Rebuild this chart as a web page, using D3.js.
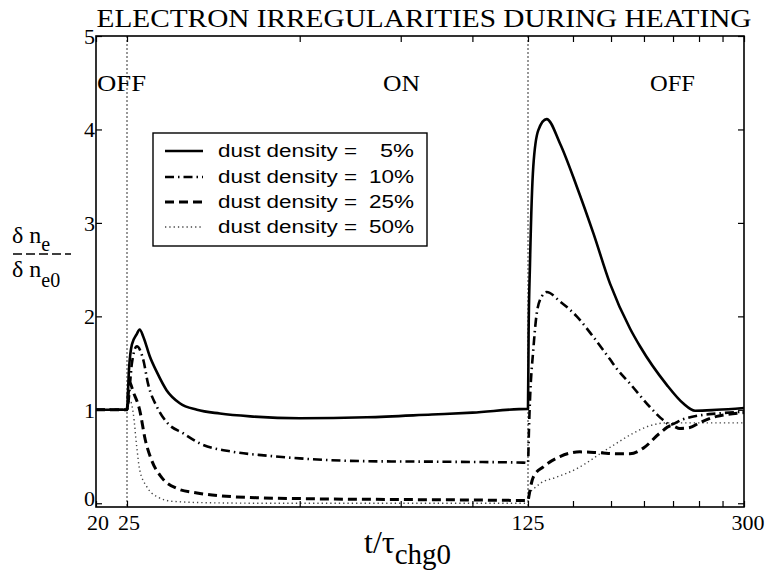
<!DOCTYPE html>
<html>
<head>
<meta charset="utf-8">
<script src="https://cdn.jsdelivr.net/npm/d3@7"></script>
<style>
  html, body { margin: 0; padding: 0; background: #fff; }
  svg { display: block; }
  .serif { font-family: "Liberation Serif", "Times New Roman", serif; fill: #000; }
  .sans { font-family: "Liberation Sans", Arial, sans-serif; fill: #000; }
</style>
</head>
<body>
<svg id="chart" width="769" height="570"></svg>
<script>
// ---------------- data ----------------
const title = "ELECTRON IRREGULARITIES DURING HEATING";
const xTickValues = [20, 25, 50, 75, 100, 125, 150, 175, 200, 225, 250, 275, 300];
const xTickLabels = [20, 25, 125, 300];
const yTickValues = [0, 1, 2, 3, 4, 5];
const switchTimes = [25, 125];
const phaseLabels = ["OFF", "ON", "OFF"];
const seriesNames = ["dust density =   5%", "dust density = 10%", "dust density = 25%", "dust density = 50%"];

const t5 = [20, 25, 25.02, 25.2, 25.5, 26.0, 26.3, 26.7, 27.4, 28.2, 29.3, 30.9, 33.1, 36.3, 41, 50, 65.5, 85, 100, 124.9,
            125, 125.3, 126.0, 127.7, 130.3, 134.8, 142.3, 152.3, 162.9, 174.3, 189.0, 196.8, 219.2, 234.4, 246.0, 268.6, 300];
const v5 = [1.0, 1.0, 1.02, 1.43, 1.7, 1.81, 1.86, 1.78, 1.57, 1.40, 1.21, 1.07, 1.0, 0.96, 0.93, 0.91, 0.92, 0.95, 0.97, 1.01,
            1.01, 1.8, 2.55, 3.6, 3.99, 4.11, 3.85, 3.39, 2.89, 2.35, 1.87, 1.68, 1.27, 1.07, 0.99, 1.0, 1.02];

const t10 = [20, 25, 25.1, 25.5, 26.0, 26.7, 27.2, 28.2, 29.5, 31.3, 33.5, 38.3, 43.8, 50, 65.5, 85.5, 122.6,
             125, 125.5, 126.0, 127.7, 129.5, 132.1, 134.8, 142.3, 152.3, 162.9, 174.3, 179.1, 189, 204.9, 216.2, 222.2, 234.4, 250.4, 268.6, 300];
const v10 = [1.0, 1.0, 1.05, 1.5, 1.68, 1.53, 1.28, 1.03, 0.85, 0.75, 0.64, 0.55, 0.51, 0.48, 0.45, 0.445, 0.435,
             0.43, 0.8, 1.1, 1.64, 2.03, 2.21, 2.26, 2.16, 2.0, 1.78, 1.54, 1.44, 1.28, 1.03, 0.89, 0.84, 0.90, 0.94, 0.96, 0.98];

const t25 = [20, 25, 25.15, 25.3, 25.6, 26.3, 26.9, 27.6, 28.7, 30.5, 33.1, 36.3, 42, 50, 75, 100,
             125, 125.5, 126, 127.7, 133, 142.3, 154.3, 167.4, 179.1, 189, 199.5, 213.3, 223.8, 231.3, 240.9, 250.4, 268.6, 279.7, 300];
const v25 = [1.0, 1.0, 1.2, 1.29, 1.2, 1.0, 0.68, 0.46, 0.28, 0.16, 0.11, 0.08, 0.06, 0.05, 0.04, 0.035,
             0.03, 0.08, 0.14, 0.28, 0.39, 0.50, 0.55, 0.54, 0.53, 0.53, 0.59, 0.75, 0.83, 0.80, 0.81, 0.86, 0.93, 0.95, 0.97];

const t50 = [20, 25, 25.3, 25.64, 25.99, 26.3, 27.05, 28.2, 30.1, 35, 45,
             125, 125.5, 127.7, 131.2, 140.4, 152.3, 162.9, 167.4, 176.6, 191.5, 204.9, 219.2, 234.4, 300];
const v50 = [1.0, 1.0, 1.1, 0.96, 0.61, 0.36, 0.18, 0.07, 0.02, 0.005, 0.0,
             0.0, 0.1, 0.15, 0.21, 0.28, 0.37, 0.48, 0.53, 0.62, 0.75, 0.83, 0.86, 0.86, 0.86];

// ---------------- chart ----------------
const svg = d3.select("#chart");
const L = 96, R = 744, T = 36, B = 507;

const x = d3.scaleLog().domain([20, 25, 125, 300]).range([L, 127, 528, R]);
const y = d3.scaleLinear().domain([-0.04, 5]).range([B, T]);

const styles = [
  { width: 2.6, dash: null, color: "#000" },
  { width: 2.6, dash: "9,4,1.5,4", color: "#000" },
  { width: 3, dash: "9,5", color: "#000" },
  { width: 1.4, dash: "1.3,3", color: "#444" }
];
const series = [
  { t: t5, v: v5 }, { t: t10, v: v10 }, { t: t25, v: v25 }, { t: t50, v: v50 }
];

// vertical switch lines
svg.selectAll("line.switch").data(switchTimes).join("line")
  .attr("x1", d => x(d)).attr("x2", d => x(d))
  .attr("y1", T).attr("y2", B)
  .attr("stroke", "#777").attr("stroke-width", 1.5).attr("stroke-dasharray", "2,2");

const line = d3.line().x(d => x(d[0])).y(d => y(d[1])).curve(d3.curveMonotoneX);
const plot = svg.append("g");
series.slice().reverse().forEach((s, ri) => {
  const i = series.length - 1 - ri;
  const pts = s.t.map((t, k) => [t, s.v[k]]);
  plot.append("path").datum(pts)
    .attr("d", line).attr("fill", "none")
    .attr("stroke", styles[i].color)
    .attr("stroke-width", styles[i].width)
    .attr("stroke-dasharray", styles[i].dash)
    .attr("stroke-linejoin", "round");
});

// axes (inward ticks)
const tickLen = 6;
const axB = svg.append("g").attr("transform", `translate(0,${B})`)
  .call(d3.axisTop(x).tickValues(xTickValues).tickSize(tickLen).tickFormat(""));
const axT = svg.append("g").attr("transform", `translate(0,${T})`)
  .call(d3.axisBottom(x).tickValues(xTickValues).tickSize(tickLen).tickFormat(""));
const axL = svg.append("g").attr("transform", `translate(${L},0)`)
  .call(d3.axisRight(y).tickValues(yTickValues).tickSize(tickLen).tickFormat(""));
const axR = svg.append("g").attr("transform", `translate(${R},0)`)
  .call(d3.axisLeft(y).tickValues(yTickValues).tickSize(tickLen).tickFormat(""));
[axB, axT, axL, axR].forEach(g => {
  g.select(".domain").remove();
  g.selectAll(".tick line").attr("stroke", "#000").attr("stroke-width", 1.2);
});

// frame
svg.append("rect").attr("x", L).attr("y", T).attr("width", R - L).attr("height", B - T)
  .attr("fill", "none").attr("stroke", "#000").attr("stroke-width", 1.6);

// tick labels
svg.append("g").selectAll("text").data(xTickLabels).join("text")
  .attr("class", "serif").attr("x", d => x(d) + (d === 300 ? 4 : d === 25 ? 2 : d === 20 ? 2 : 0)).attr("y", 530)
  .attr("text-anchor", "middle").attr("font-size", 22).text(d => d);
svg.append("g").selectAll("text").data(yTickValues).join("text")
  .attr("class", "serif").attr("x", L - 1).attr("y", d => y(d) + (d === 0 ? 3 : 8))
  .attr("text-anchor", "end").attr("font-size", 22).text(d => d);

// title
svg.append("text").attr("class", "serif").attr("x", 424).attr("y", 27)
  .attr("text-anchor", "middle").attr("font-size", 26)
  .attr("textLength", 655).attr("lengthAdjust", "spacingAndGlyphs").text(title);

// phase labels
const phasePos = [[97, 49], [383, 37], [650, 45]];
phaseLabels.forEach((p, i) => {
  svg.append("text").attr("class", "serif").attr("x", phasePos[i][0]).attr("y", 91)
    .attr("font-size", 23).attr("textLength", phasePos[i][1]).attr("lengthAdjust", "spacingAndGlyphs").text(p);
});

// x label
const xl = svg.append("text").attr("class", "serif").attr("x", 364).attr("y", 553).attr("font-size", 32);
xl.append("tspan").text("t/τ");
xl.append("tspan").attr("font-size", 29).attr("dy", 11).text("chg0");

// y label
const yl = svg.append("g");
const yTop = yl.append("text").attr("class", "serif").attr("x", 12).attr("y", 243).attr("font-size", 24);
yTop.append("tspan").text("δ n");
yTop.append("tspan").attr("font-size", 20).attr("dy", 8).text("e");
yl.append("line").attr("x1", 13).attr("x2", 71).attr("y1", 254).attr("y2", 254)
  .attr("stroke", "#000").attr("stroke-width", 1.3).attr("stroke-dasharray", "9,4");
const yBot = yl.append("text").attr("class", "serif").attr("x", 12).attr("y", 277).attr("font-size", 24);
yBot.append("tspan").text("δ n");
yBot.append("tspan").attr("font-size", 20).attr("dy", 10).text("e0");

// legend
const lg = svg.append("g");
lg.append("rect").attr("x", 153).attr("y", 133).attr("width", 274).attr("height", 113)
  .attr("fill", "#fff").attr("stroke", "#000").attr("stroke-width", 1.4);
const rowY = [151, 177, 202, 227];
seriesNames.forEach((name, i) => {
  lg.append("line").attr("x1", 165).attr("x2", 203).attr("y1", rowY[i]).attr("y2", rowY[i])
    .attr("stroke", styles[i].color).attr("stroke-width", styles[i].width)
    .attr("stroke-dasharray", styles[i].dash);
  const parts = name.split("=");
  lg.append("text").attr("class", "sans").attr("x", 218).attr("y", rowY[i] + 6)
    .attr("font-size", 18).attr("textLength", 139).attr("lengthAdjust", "spacingAndGlyphs")
    .text(parts[0] + "=");
  const pct = parts[1].trim();
  lg.append("text").attr("class", "sans").attr("x", 414).attr("y", rowY[i] + 6)
    .attr("font-size", 18).attr("text-anchor", "end")
    .attr("textLength", pct.length === 2 ? 34 : 45).attr("lengthAdjust", "spacingAndGlyphs")
    .text(pct);
});
</script>
</body>
</html>
